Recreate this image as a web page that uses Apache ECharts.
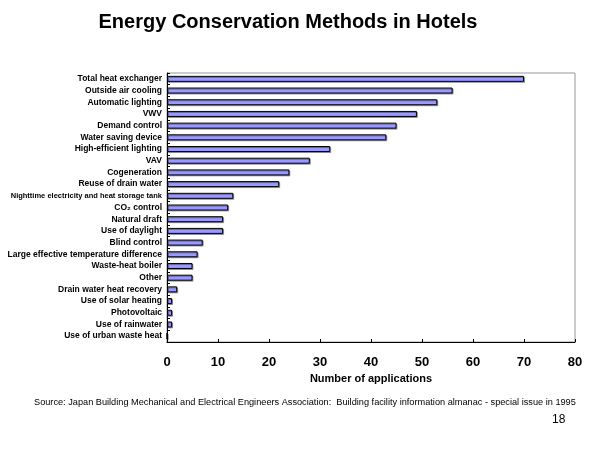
<!DOCTYPE html>
<html><head><meta charset="utf-8">
<script src="https://cdn.jsdelivr.net/npm/echarts@6/dist/echarts.min.js"></script>
<style>html,body{margin:0;padding:0;background:#fff}#c{width:600px;height:450px}</style>
</head><body><div id="c"></div>
<script>
const categories = [
  "Total heat exchanger","Outside air cooling","Automatic lighting","VWV","Demand control",
  "Water saving device","High-efficient lighting","VAV","Cogeneration","Reuse of drain water",
  "Nighttime electricity and heat storage tank","CO₂ control","Natural draft","Use of daylight",
  "Blind control","Large effective temperature difference","Waste-heat boiler","Other",
  "Drain water heat recovery","Use of solar heating","Photovoltaic","Use of rainwater","Use of urban waste heat"
];
const applications = [70,56,53,49,45,43,32,28,24,22,13,12,11,11,7,6,5,5,2,1,1,1,0];
const xTicks = [0,80,10];

const chart = echarts.init(document.getElementById('c'));
chart.setOption({
  animation:false,
  textStyle:{fontFamily:'Liberation Sans, Arial, sans-serif'},
  title:{text:'Energy Conservation Methods in Hotels',left:283,textAlign:'center',top:7,
    textStyle:{fontSize:20,fontWeight:'bold',color:'#000',fontFamily:'Liberation Sans, Arial, sans-serif'}},
  graphic:[
    {type:'text',left:34,top:398,style:{text:'Source: Japan Building Mechanical and Electrical Engineers Association:  Building facility information almanac - special issue in 1995',fontSize:9.2,fill:'#000',fontFamily:'Liberation Sans, Arial, sans-serif'}},
    {type:'text',left:552,top:414,style:{text:'18',fontSize:12,fill:'#000',fontFamily:'Liberation Sans, Arial, sans-serif'}}
  ],
  grid:{left:167,right:25,top:73,bottom:108,show:true,borderColor:'#999',borderWidth:1},
  xAxis:{type:'value',min:xTicks[0],max:xTicks[1],interval:xTicks[2],
    name:'Number of applications',nameLocation:'middle',nameGap:29,
    nameTextStyle:{fontSize:11,fontWeight:'bold',color:'#000'},
    axisLine:{show:true,lineStyle:{color:'#000',width:1}},
    axisTick:{show:true,inside:true,length:3,lineStyle:{color:'#000'}},
    axisLabel:{fontSize:13,fontWeight:'bold',color:'#000',margin:14},
    splitLine:{show:false}},
  yAxis:{type:'category',data:categories,inverse:true,
    axisLine:{show:true,lineStyle:{color:'#000',width:1}},
    axisTick:{show:true,inside:true,length:3,lineStyle:{color:'#000'}},
    axisLabel:{interval:0,fontSize:8.5,fontWeight:'bold',color:'#000',margin:5,
      formatter:function(v){return v.indexOf('Nighttime')===0?'{s|'+v+'}':v;},
      rich:{s:{fontSize:7.5,fontWeight:'bold',color:'#000'}}}},
  series:[{type:'bar',data:applications,barWidth:6,
    itemStyle:{color:'#9999ff',borderColor:'#000',borderWidth:1,
      shadowColor:'rgba(0,0,0,0.35)',shadowOffsetX:1,shadowOffsetY:1}}]
});
</script></body></html>
